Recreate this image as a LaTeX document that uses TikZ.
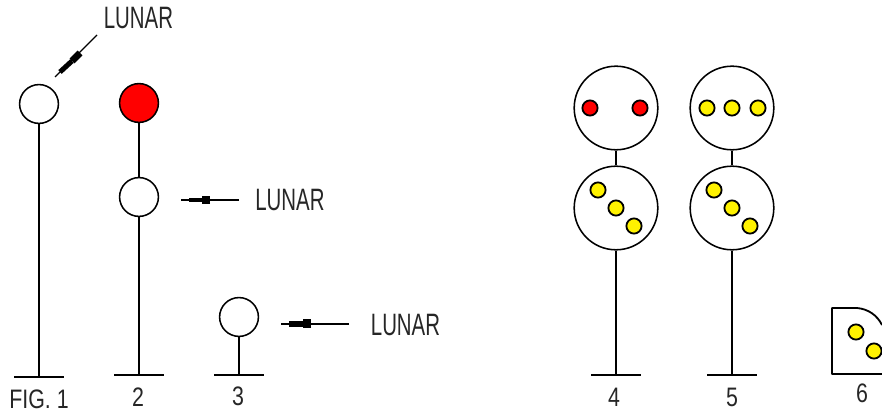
\documentclass[tikz,border=0pt]{standalone}
\usepackage{fontspec}
\setmainfont{Liberation Sans}
\newfontfamily\lunarfont[FakeStretch=0.66]{Liberation Sans}
\newfontfamily\figfont[FakeStretch=0.8]{Liberation Sans}
\tikzset{
    lamp/.style={draw, circle, line width=1.1pt, inner sep=0pt, minimum size=0.97cm, fill=white},
    head/.style={draw, circle, line width=1.1pt, inner sep=0pt, minimum size=2.09cm},
    lens/.style={draw, circle, line width=1.3pt, inner sep=0pt, minimum size=0.38cm},
    post/.style={line width=1.3pt},
    base/.style={line width=1.3pt},
    pointer/.style={line width=0.8pt},
    lunarlabel/.style={font=\lunarfont\fontsize{22}{22}\selectfont, text=black!85, inner sep=0pt},
    figlabel/.style={font=\figfont\fontsize{19}{19}\selectfont, text=black!85, inner sep=0pt},
}
\begin{document}
\begin{tikzpicture}[x=0.025cm, y=-0.025cm]
    \useasboundingbox (0, 0) rectangle (882, 412);
    % Draw plain signals
    \node[lamp] (lampA) at (39, 104) {};
    \node[lamp, fill=red] (lampB) at (139, 103) {};
    \node[lamp] (lampC) at (139, 197) {};
    \node[lamp] (lampD) at (239, 317) {};
    % Draw large signal heads
    \foreach \x/\n in {616/E, 732/F} {
        \node[head] (top\n) at (\x, 108) {};
        \node[head] (low\n) at (\x, 208) {};
        \draw[post] (top\n) -- (low\n);
        \node[lens, fill=yellow] (dotA\n) at (\x-18, 190) {};
        \node[lens, fill=yellow] (dotB\n) at (\x, 208) {};
        \node[lens, fill=yellow] (dotC\n) at (\x+18, 226) {};
    }
    \node[lens, fill=red] (redA) at (590, 108) {};
    \node[lens, fill=red] (redB) at (640, 108) {};
    \node[lens, fill=yellow] (ambA) at (707, 108) {};
    \node[lens, fill=yellow] (ambB) at (732, 108) {};
    \node[lens, fill=yellow] (ambC) at (758, 108) {};
    % Draw posts and bases
    \foreach \x/\y/\n/\from in {39/377/A/lampA, 139/375/C/lampC, 239/375/D/lampD, 616/375/E/lowE, 732/375/F/lowF} {
        \coordinate (foot\n) at (\x, \y);
        \coordinate (left\n) at (\x-25, \y);
        \coordinate (right\n) at (\x+25, \y);
        \draw[post] (\from) -- (foot\n);
        \draw[base] (left\n) -- (right\n);
    }
    \draw[post] (lampB) -- (lampC);
    % Draw partial head
    \coordinate (sixA) at (832, 374);
    \coordinate (sixB) at (832, 308);
    \coordinate (sixC) at (857, 308);
    \coordinate (sixD) at (882, 325);
    \coordinate (sixE) at (882, 374);
    \draw[base, line join=round] (sixE) -- (sixA) -- (sixB) -- (sixC)
        .. controls (868, 309) and (877, 315) .. (sixD);
    \node[lens, fill=yellow] (sixDotA) at (856, 332) {};
    \node[lens, fill=yellow] (sixDotB) at (874, 351) {};
    % Draw pointers
    \coordinate (ptrAa) at (97, 35);
    \coordinate (ptrAb) at (55, 77);
    \coordinate (ptrAc) at (80, 53);
    \coordinate (ptrAd) at (72, 61);
    \coordinate (ptrAe) at (60, 72);
    \draw[pointer] (ptrAa) -- (ptrAb);
    \draw[line width=5pt] (ptrAc) -- (ptrAd);
    \draw[line width=3.6pt] (ptrAd) -- (ptrAe);
    \coordinate (ptrBa) at (239, 200);
    \coordinate (ptrBb) at (181, 200);
    \coordinate (ptrBc) at (210, 200);
    \coordinate (ptrBd) at (202, 200);
    \coordinate (ptrBe) at (189, 200);
    \draw[pointer] (ptrBa) -- (ptrBb);
    \draw[line width=5.4pt] (ptrBc) -- (ptrBd);
    \draw[line width=3.4pt] (ptrBd) -- (ptrBe);
    \coordinate (ptrCa) at (349, 324);
    \coordinate (ptrCb) at (281, 324);
    \coordinate (ptrCc) at (311, 324);
    \coordinate (ptrCd) at (303, 324);
    \coordinate (ptrCe) at (289, 324);
    \draw[pointer] (ptrCa) -- (ptrCb);
    \draw[line width=6.4pt] (ptrCc) -- (ptrCd);
    \draw[line width=4pt] (ptrCd) -- (ptrCe);
    % Label pointers and figures
    \node[lunarlabel] (lunarA) at (138.5, 18) {LUNAR};
    \node[lunarlabel] (lunarB) at (290, 200) {LUNAR};
    \node[lunarlabel] (lunarC) at (405.5, 325) {LUNAR};
    \node[figlabel] (figA) at (39, 399) {FIG. 1};
    \node[figlabel] (figB) at (138, 397) {2};
    \node[figlabel] (figC) at (238, 396) {3};
    \node[figlabel] (figD) at (614, 397) {4};
    \node[figlabel] (figE) at (732, 397) {5};
    \node[figlabel] (figF) at (862, 393) {6};
\end{tikzpicture}
\end{document}
